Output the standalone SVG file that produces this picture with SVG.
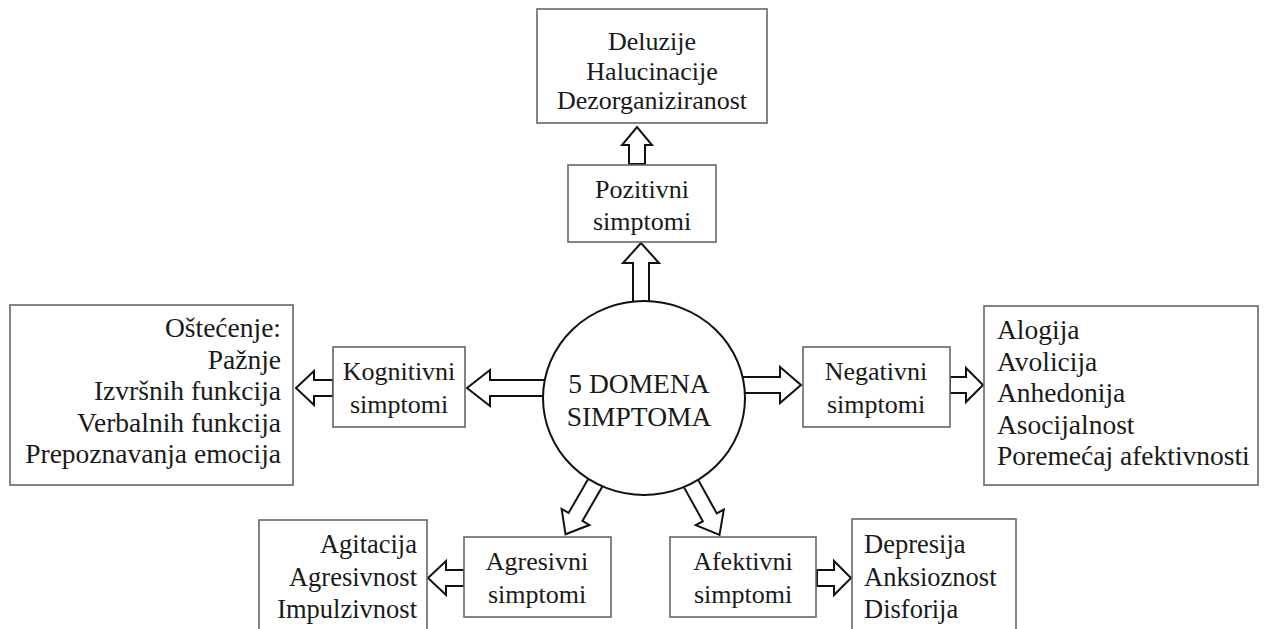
<svg xmlns="http://www.w3.org/2000/svg" width="1264" height="629" viewBox="0 0 1264 629">
<style>
.box{fill:#fff;stroke:#666;stroke-width:1.6}
.arr{fill:#fff;stroke:#111;stroke-width:2;stroke-linejoin:miter}
text{font-family:"Liberation Serif","Times New Roman",serif;font-size:26px;fill:#1a1a1a}
.big{font-size:27.5px}
.mid{font-size:26.5px}
.c{text-anchor:middle}
.r{text-anchor:end}
.l{text-anchor:start}
</style>
<rect width="1264" height="629" fill="#fff"/>
<g id="connectors">
<polygon class="arr" points="629,164 629,145 622,145 637,127 652,145 645,145 645,164"/>
<polygon class="arr" points="633,305 633,263 623,263 641,243 659,263 649,263 649,305"/>
<polygon class="arr" points="550,380 490,380 490,370 467,388 490,406 490,396 550,396"/>
<polygon class="arr" points="333,380 314,380 314,371 296,388 314,405 314,396 333,396"/>
<polygon class="arr" points="738,377 780,377 780,367 801,385 780,403 780,393 738,393"/>
<polygon class="arr" points="950,377 966,377 966,368 983,385 966,402 966,393 950,393"/>
<polygon class="arr" points="464,570 446,570 446,561 428,578 446,595 446,586 464,586"/>
<polygon class="arr" points="817,570 834,570 834,561 851,578 834,595 834,586 817,586"/>
<polygon class="arr" transform="translate(598,478) rotate(30)" points="-8,0 -8,45 -16,45 0,65 16,45 8,45 8,0"/>
<polygon class="arr" transform="translate(688,478) rotate(-29)" points="-8,0 -8,45 -16,45 0,65 16,45 8,45 8,0"/>
</g>
<g id="center">
<ellipse cx="644" cy="398" rx="101" ry="97" fill="#fff" stroke="#111" stroke-width="2"/>
<text class="c big" x="639" y="393">5 DOMENA</text>
<text class="c big" x="639" y="426">SIMPTOMA</text>
</g>
<g id="pozitivni-list">
<rect class="box" x="537" y="9" width="230" height="114"/>
<text class="c" x="652" y="50">Deluzije</text>
<text class="c" x="652" y="80">Halucinacije</text>
<text class="c" x="652" y="109">Dezorganiziranost</text>
</g>
<g id="pozitivni">
<rect class="box" x="568" y="165" width="148" height="77"/>
<text class="c" x="642" y="198">Pozitivni</text>
<text class="c" x="642" y="230">simptomi</text>
</g>
<g id="kognitivni">
<rect class="box" x="333" y="347" width="132" height="80"/>
<text class="c" x="399" y="380">Kognitivni</text>
<text class="c" x="399" y="413">simptomi</text>
</g>
<g id="kognitivni-list">
<rect class="box" x="10" y="305" width="283" height="180"/>
<text class="r big" x="281" y="337">Oštećenje:</text>
<text class="r big" x="281" y="369">Pažnje</text>
<text class="r big" x="281" y="400">Izvršnih funkcija</text>
<text class="r big" x="281" y="432">Verbalnih funkcija</text>
<text class="r big" x="281" y="463">Prepoznavanja emocija</text>
</g>
<g id="negativni">
<rect class="box" x="803" y="347" width="147" height="80"/>
<text class="c" x="876" y="380">Negativni</text>
<text class="c" x="876" y="413">simptomi</text>
</g>
<g id="negativni-list">
<rect class="box" x="984" y="306" width="274" height="179"/>
<text class="l big" x="997" y="339">Alogija</text>
<text class="l big" x="997" y="371">Avolicija</text>
<text class="l big" x="997" y="402">Anhedonija</text>
<text class="l big" x="997" y="434">Asocijalnost</text>
<text class="l big" x="997" y="465">Poremećaj afektivnosti</text>
</g>
<g id="agresivni">
<rect class="box" x="464" y="537" width="147" height="80"/>
<text class="c" x="537" y="570">Agresivni</text>
<text class="c" x="537" y="603">simptomi</text>
</g>
<g id="agresivni-list">
<rect class="box" x="259" y="520" width="168" height="120"/>
<text class="r mid" x="417" y="553">Agitacija</text>
<text class="r mid" x="417" y="586">Agresivnost</text>
<text class="r mid" x="417" y="618">Impulzivnost</text>
</g>
<g id="afektivni">
<rect class="box" x="670" y="537" width="146" height="80"/>
<text class="c" x="743" y="570">Afektivni</text>
<text class="c" x="743" y="603">simptomi</text>
</g>
<g id="afektivni-list">
<rect class="box" x="852" y="519" width="164" height="121"/>
<text class="l mid" x="864" y="553">Depresija</text>
<text class="l mid" x="864" y="586">Anksioznost</text>
<text class="l mid" x="864" y="618">Disforija</text>
</g>
</svg>
